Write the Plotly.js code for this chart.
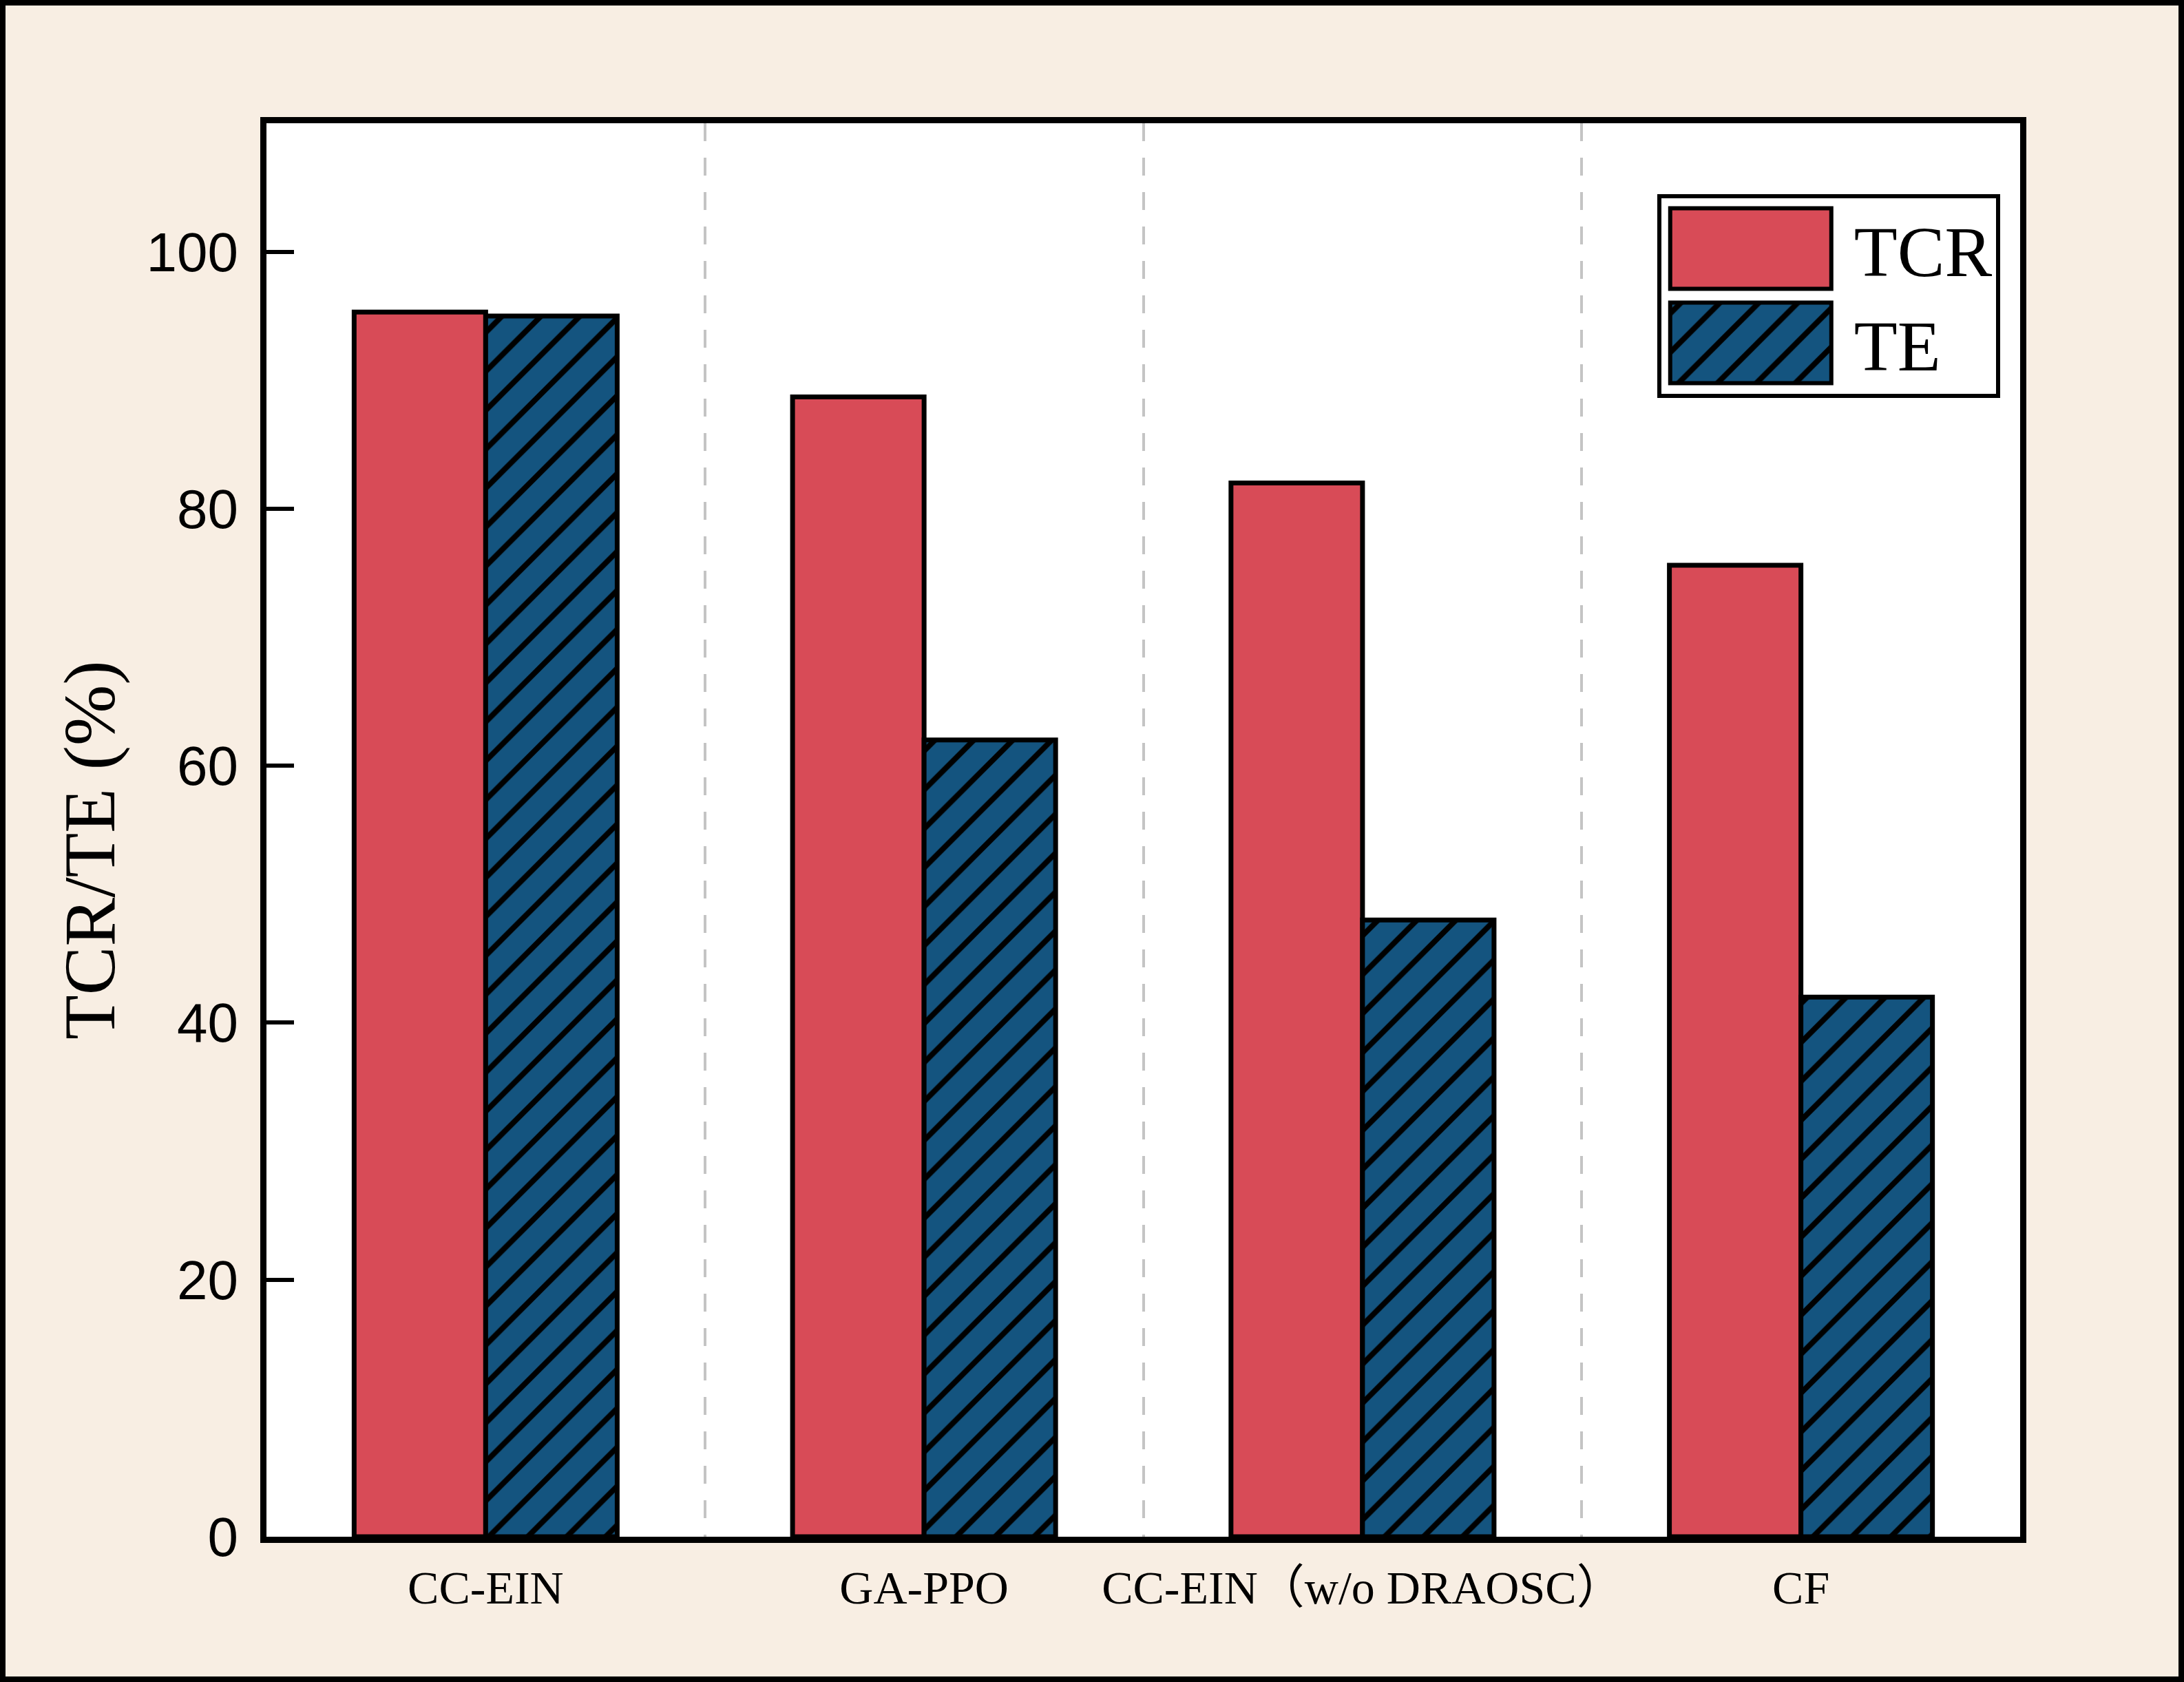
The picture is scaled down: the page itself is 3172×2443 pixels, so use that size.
<!DOCTYPE html>
<html>
<head>
<meta charset="utf-8">
<script src="https://cdn.plot.ly/plotly-3.0.1.min.js"></script>
<style>
  html, body { margin: 0; padding: 0; background: #F8EEE3; }
  #frame { width: 3172px; height: 2443px; box-sizing: border-box; border: 8px solid #000; background: #F8EEE3; overflow: hidden; }
  #chart { width: 3156px; height: 2427px; }
</style>
</head>
<body>
<div id="frame"><div id="chart"></div></div>
<script>
// ---- data ----
const categories = ['CC-EIN', 'GA-PPO', 'CC-EIN（w/o DRAOSC）', 'CF'];
const tcrValues = [95.3, 88.7, 82.0, 75.6];
const teValues = [95.0, 62.0, 48.0, 42.0];
const seriesNames = ['TCR', 'TE'];
const yTickValues = [0, 20, 40, 60, 80, 100];
const yTitle = 'TCR/TE (%)';

const RED = '#D84B57';
const BLUE = '#14547F';
const SERIF = '"Liberation Serif", "Times New Roman", "Noto Sans CJK SC", serif';
const NARROW = '"Liberation Sans Narrow", "Arial Narrow", "Liberation Sans", sans-serif';

const traces = [
  {
    type: 'bar', name: seriesNames[0], x: categories, y: tcrValues,
    marker: { color: RED, line: { color: '#000', width: 7 } },
    hoverinfo: 'skip'
  },
  {
    type: 'bar', name: seriesNames[1], x: categories, y: teValues,
    marker: {
      color: BLUE, line: { color: '#000', width: 7 },
      pattern: { shape: '/', fillmode: 'overlay', fgcolor: '#000', fgopacity: 1, size: 40, solidity: 0.2 }
    },
    hoverinfo: 'skip'
  }
];

const layout = {
  width: 3156, height: 2427, autosize: false,
  paper_bgcolor: '#F8EEE3', plot_bgcolor: '#FFFFFF',
  margin: { l: 378.5, r: 229.5, t: 170.5, b: 203, pad: 0 },
  barmode: 'group', bargap: 0.4, bargroupgap: 0,
  font: { family: NARROW, color: '#000' },
  showlegend: true,
  legend: {
    x: 0.793, y: 0.95, xanchor: 'left', yanchor: 'top',
    bgcolor: '#FFFFFF', bordercolor: '#000', borderwidth: 6,
    font: { family: SERIF, size: 103, color: '#000' },
    itemwidth: 270, tracegroupgap: 0
  },
  xaxis: {
    type: 'category', range: [-0.5, 3.5],
    showline: true, linecolor: '#000', linewidth: 9, mirror: true,
    ticks: '', tickson: 'boundaries', tickangle: 0, ticklabelstandoff: 6,
    showgrid: true, gridcolor: '#C4C4C4', gridwidth: 4, griddash: '26px,24px',
    tickfont: { family: SERIF, size: 68, color: '#000' },
    zeroline: false, fixedrange: true
  },
  yaxis: {
    range: [0, 110], tickvals: yTickValues, ticktext: yTickValues.map(String),
    showline: true, linecolor: '#000', linewidth: 9, mirror: true,
    ticks: 'inside', ticklen: 40, tickwidth: 6, tickcolor: '#000',
    ticklabelstandoff: 16,
    showgrid: false, zeroline: false,
    tickfont: { family: NARROW, size: 80, color: '#000' },
    fixedrange: true
  },
  annotations: [{
    text: yTitle, textangle: -90, showarrow: false,
    xref: 'paper', yref: 'paper', x: -0.101, y: 0.486,
    xanchor: 'center', yanchor: 'middle',
    font: { family: SERIF, size: 106, color: '#000' }
  }]
};

function fixLegend(gd) {
  const items = gd.querySelectorAll('.legend .traces');
  const barTraces = gd.querySelectorAll('.barlayer .trace');
  items.forEach((it, i) => {
    const paths = it.querySelectorAll('.legendpoints path');
    paths.forEach(p => {
      p.setAttribute('d', 'M107,58.5H-127V-58.5H107Z');
      p.style.strokeWidth = '6px';
      p.style.stroke = '#000';
      const tr = barTraces[i];
      const bp = tr && tr.querySelector('path');
      if (bp && bp.style.fill && bp.style.fill.indexOf('url') >= 0) {
        p.style.fill = bp.style.fill;
      }
    });
  });
}

const gd = document.getElementById('chart');
Plotly.newPlot(gd, traces, layout, { displayModeBar: false, staticPlot: true }).then(() => {
  fixLegend(gd);
  setTimeout(() => fixLegend(gd), 50);
  gd.on('plotly_afterplot', () => fixLegend(gd));
});
</script>
</body>
</html>
